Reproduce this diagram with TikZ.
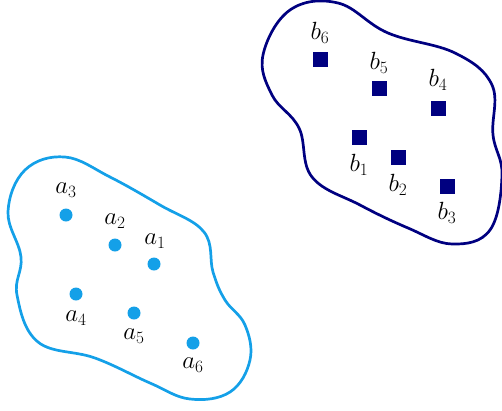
\documentclass[tikz,border=0pt]{standalone}
\usepackage{tikz}
\definecolor{lblue}{RGB}{20,160,232}
\definecolor{dblue}{RGB}{0,0,128}
\tikzset{
  blob/.style={line width=2.7pt, line join=round},
  dot/.style={circle, fill=lblue, inner sep=0pt, minimum size=13pt},
  sq/.style={rectangle, fill=dblue, inner sep=0pt, minimum size=15pt},
  lab/.style={inner sep=0pt, font=\fontsize{23}{27}\selectfont}
}
\begin{document}
\begin{tikzpicture}[x=1pt,y=-1pt]
\useasboundingbox (0,0) rectangle (502,410);
% left blob
\draw[blob, lblue] plot[smooth cycle, tension=0.65] coordinates {
 (8,212) (25,170) (65,157) (110,177) (160,205) (204,232) (213,272) (225,300)
 (245,325) (250,360) (230,392) (190,399) (150,383) (95,358) (38,342) (17,295) (21,257)};
% right blob
\draw[blob, dblue] plot[smooth cycle, tension=0.65] coordinates {
 (263,55) (290,10) (338,3) (388,33) (455,53) (492,85) (493,135) (502,175)
 (490,230) (452,244) (408,228) (360,205) (312,177) (299,128) (272,95)};
% a points
\node[dot] (a1) at (154,264) {};
\node[dot] (a2) at (115,245) {};
\node[dot] (a3) at (66,215) {};
\node[dot] (a4) at (76,294) {};
\node[dot] (a5) at (134,313) {};
\node[dot] (a6) at (193,343) {};
\node[lab] (la1) at (155,241) {$a_1$};
\node[lab] (la2) at (115,221) {$a_2$};
\node[lab] (la3) at (66,190) {$a_3$};
\node[lab] (la4) at (76,318) {$a_4$};
\node[lab] (la5) at (134,336) {$a_5$};
\node[lab] (la6) at (193,365) {$a_6$};
% b points
\node[sq] (b1) at (359,137) {};
\node[sq] (b2) at (398,157) {};
\node[sq] (b3) at (447,186) {};
\node[sq] (b4) at (438,108) {};
\node[sq] (b5) at (379,88) {};
\node[sq] (b6) at (320,59) {};
\node[lab] (lb1) at (359,165) {$b_1$};
\node[lab] (lb2) at (398,185) {$b_2$};
\node[lab] (lb3) at (447,213) {$b_3$};
\node[lab] (lb4) at (438,80) {$b_4$};
\node[lab] (lb5) at (379,63) {$b_5$};
\node[lab] (lb6) at (320,33) {$b_6$};
\end{tikzpicture}
\end{document}
